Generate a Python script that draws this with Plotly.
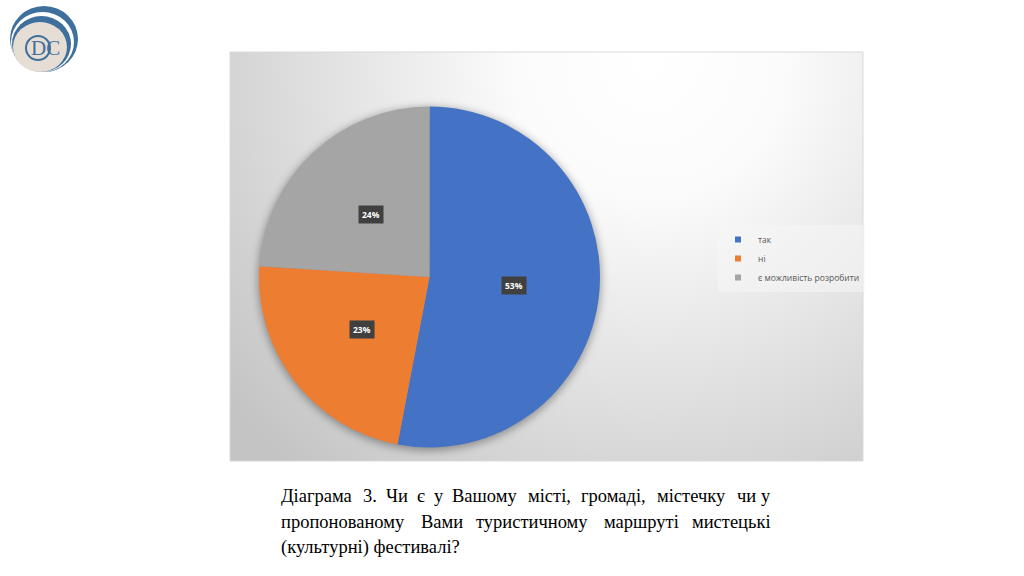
import math, base64
import plotly.graph_objects as go

# ---- data ----
labels = ["так", "ні", "є можливість розробити"]
values = [53, 23, 24]
colors = ["#4472C4", "#ED7D31", "#A5A5A5"]
caption_lines = [
    "Діаграма 3. Чи є у Вашому місті, громаді, містечку чи у",
    "пропонованому Вами туристичному маршруті мистецькі",
    "(культурні) фестивалі?",
]

W, H = 1024, 576
def px(x): return x / W
def py(y): return 1 - y / H

# chart area box (pixels)
ax0, ay0, ax1, ay1 = 230, 52, 863, 461
# pie geometry (pixels)
pcx, pcy, pr = 429.5, 277, 170.5

fig = go.Figure()
fig.add_trace(go.Pie(
    labels=labels, values=values, sort=False, direction="clockwise", rotation=0,
    marker=dict(colors=colors, line=dict(width=0)),
    textinfo="none", hoverinfo="label+percent", showlegend=False,
    domain=dict(x=[px(pcx - pr), px(pcx + pr)], y=[py(pcy + pr), py(pcy - pr)]),
))
# legend entries (small squares like the reference)
for lab, col in zip(labels, colors):
    fig.add_trace(go.Scatter(x=[None], y=[None], mode="markers", name=lab,
                             marker=dict(symbol="square", size=6, color=col)))

# gradient background + soft pie shadow as svg image
gw, gh = ax1 - ax0, ay1 - ay0
scx, scy = pcx - ax0, pcy - ay0 + 2
svg = f'''<svg xmlns="http://www.w3.org/2000/svg" width="{gw}" height="{gh}">
<defs><radialGradient id="g" gradientUnits="userSpaceOnUse" cx="420" cy="10" r="540">
<stop offset="0" stop-color="#ffffff"/><stop offset="0.25" stop-color="#fbfbfb"/>
<stop offset="1" stop-color="#c4c4c4"/></radialGradient>
<filter id="b" x="-20%" y="-20%" width="140%" height="140%"><feGaussianBlur stdDeviation="4"/></filter></defs>
<rect width="{gw}" height="{gh}" fill="url(#g)"/>
<circle cx="{scx}" cy="{scy}" r="{pr + 1}" fill="rgba(0,0,0,0.35)" filter="url(#b)"/></svg>'''
src = "data:image/svg+xml;base64," + base64.b64encode(svg.encode()).decode()

images = [dict(source=src, xref="paper", yref="paper", x=px(ax0), y=py(ay0),
               sizex=px(ax1) - px(ax0), sizey=py(ay0) - py(ay1),
               sizing="stretch", layer="below", xanchor="left", yanchor="top")]

shapes = [dict(type="rect", xref="paper", yref="paper", x0=px(ax0), x1=px(ax1),
               y0=py(ay1), y1=py(ay0), line=dict(color="#d9d9d9", width=1), layer="below")]

# logo
blue = "#3f6f9c"
beige = "#e6ddd5"
def circ(x0, y0, x1, y1, fill=None, line=None, lw=0):
    return dict(type="circle", xref="paper", yref="paper", x0=px(x0), x1=px(x1),
                y0=py(y1), y1=py(y0), fillcolor=fill or "rgba(0,0,0,0)",
                line=dict(color=line or "rgba(0,0,0,0)", width=lw), layer="above")
shapes += [
    circ(10, 6, 78, 72, fill=blue),
    circ(11, 12, 74, 72, fill="#ffffff"),
    circ(12, 16, 71, 72, fill=blue),
    circ(13, 22, 67, 72, fill=beige),
    circ(26, 36, 50, 60, line=blue, lw=2),
]

annotations = []
total = sum(values)
cum = 0
for v in values:
    th = 2 * math.pi * (cum + v / 2) / total
    cum += v
    lx = pcx + 0.5 * pr * math.sin(th)
    ly = pcy - 0.5 * pr * math.cos(th)
    annotations.append(dict(x=px(lx), y=py(ly), xref="paper", yref="paper",
        xanchor="center", yanchor="middle",
        text=f"<b>{round(100 * v / total)}%</b>", showarrow=False,
        font=dict(color="white", size=8.5, family="Open Sans"),
        bgcolor="#404040", borderpad=3))

annotations.append(dict(x=px(45), y=py(48), xref="paper", yref="paper", text="DC",
    xanchor="center", yanchor="middle", showarrow=False,
    font=dict(family="Liberation Serif", size=21, color=blue)))

# ---- caption, justified (approximate Times/Liberation Serif advance widths) ----
CW = {'а':444,'б':509,'в':472,'г':410,'д':509,'е':444,'є':441,'ж':691,'з':395,'и':535,
      'і':278,'ї':278,'й':535,'к':486,'л':499,'м':633,'н':535,'о':500,'п':535,'р':500,
      'с':444,'т':437,'у':500,'ф':648,'х':500,'ц':535,'ч':503,'ш':770,'щ':770,'ь':456,
      'ю':747,'я':486,'Д':667,'В':667,'Ч':667,' ':250,'.':250,',':250,'(':333,')':333,
      '?':444}
fs = 18.5
def wlen(s): return sum(CW.get(c, 500) for c in s) * fs / 1000 * 1.04
tx0, tx1 = 279, 773
for i, line in enumerate(caption_lines):
    yy = py(496 + i * 25.5)
    fnt = dict(family="Liberation Serif", size=fs, color="#000000")
    if i == len(caption_lines) - 1:
        annotations.append(dict(x=px(tx0), y=yy, xref="paper", yref="paper", text=line,
            showarrow=False, xanchor="left", yanchor="middle", font=fnt))
        continue
    words = line.split(" ")
    widths = [wlen(w) for w in words]
    gap = (tx1 - tx0 - sum(widths)) / (len(words) - 1)
    x = tx0
    for j, w in enumerate(words):
        if j == len(words) - 1:
            annotations.append(dict(x=px(tx1), y=yy, xref="paper", yref="paper", text=w,
                showarrow=False, xanchor="right", yanchor="middle", font=fnt))
        else:
            annotations.append(dict(x=px(x), y=yy, xref="paper", yref="paper", text=w,
                showarrow=False, xanchor="left", yanchor="middle", font=fnt))
        x += widths[j] + gap

fig.update_layout(
    width=W, height=H, margin=dict(l=0, r=0, t=0, b=0),
    paper_bgcolor="white", plot_bgcolor="rgba(0,0,0,0)",
    xaxis=dict(visible=False), yaxis=dict(visible=False),
    images=images, shapes=shapes, annotations=annotations,
    showlegend=True,
    legend=dict(x=px(718), y=py(225), xanchor="left", yanchor="top",
                bgcolor="rgba(246,246,246,0.55)", itemwidth=30,
                font=dict(family="Open Sans", size=8.5, color="#595959")),
)
fig.write_html("out.html")
